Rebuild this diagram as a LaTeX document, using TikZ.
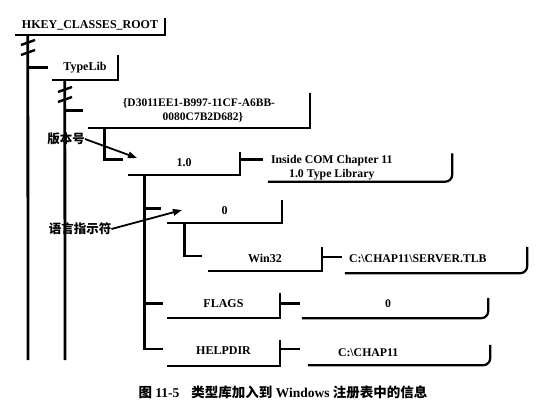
\documentclass[tikz,border=0pt]{standalone}
\usepackage{fontspec}
\setmainfont{Liberation Serif}
\newfontfamily\cjk{Noto Sans CJK SC}
\usetikzlibrary{arrows.meta}
\begin{document}
\begin{tikzpicture}[x=1pt,y=-1pt,
  keybox/.style={inner sep=0pt, anchor=base, font=\fontsize{12}{14}\selectfont\bfseries},
  valbox/.style={inner sep=0pt, anchor=base, font=\fontsize{11.8}{14}\selectfont\bfseries},
  edgeline/.style={line width=2.2pt},
  trunk/.style={line width=2.8pt},
  tick/.style={line width=2.4pt},
  callout/.style={line width=1.8pt, -{Triangle[length=9pt,width=6.5pt]}},
  cjklabel/.style={inner sep=0pt, font={\cjk\fontsize{12.5}{14}\selectfont\bfseries}}
]
\fill[white] (0,0) rectangle (557,415);
\useasboundingbox (0,0) rectangle (557,415);

% keys
\node[keybox, minimum width=150pt, text height=10pt, text depth=7pt] (hkey) at (90,28) {HKEY\_CLASSES\_ROOT};
\node[keybox, minimum width=66pt, text height=15pt, text depth=10pt] (typelib) at (85,70) {TypeLib\hspace{14pt}};
\node[keybox, font=\fontsize{11.5}{14.5}\selectfont\bfseries, minimum width=222pt, minimum height=35pt, anchor=center] (guid) at (199,110.5)
  {\begin{tabular}{@{}c@{}}\{D3011EE1-B997-11CF-A6BB-\\\hspace{8pt}0080C7B2D682\}\end{tabular}};
\node[keybox, minimum width=112pt, text height=14pt, text depth=9pt] (k10) at (184,166) {1.0\hspace{6pt}};
\node[keybox, minimum width=115pt, text height=14pt, text depth=9pt] (k0) at (224.5,214) {0\hspace{8pt}};
\node[keybox, minimum width=114pt, text height=15pt, text depth=9pt] (kwin) at (265,262) {Win32\hspace{6pt}};
\node[keybox, minimum width=113pt, text height=14pt, text depth=11pt] (kflags) at (223.5,307) {FLAGS};
\node[keybox, minimum width=113pt, text height=14pt, text depth=12pt] (khelp) at (223.5,354) {HELPDIR\hspace{6pt}};

% values
\node[valbox, minimum height=25pt, anchor=center] (v10) at (360,167.5)
  {\makebox[184pt][l]{\hspace{3pt}\begin{tabular}{@{}c@{}}Inside COM Chapter 11\\1.0 Type Library\end{tabular}}};
\node[valbox, text height=15pt, text depth=11pt] (vtlb) at (436,262)
  {\makebox[182pt][l]{\hspace{4pt}C:\textbackslash CHAP11\textbackslash SERVER.TLB}};
\node[valbox, text height=9pt, text depth=11pt] (v0) at (395,307) {\makebox[186pt][l]{\hspace{83pt}0}};
\node[valbox, text height=11pt, text depth=9pt] (vhelp) at (399,356)
  {\makebox[182pt][l]{\hspace{30pt}C:\textbackslash CHAP11}};

\foreach \n in {hkey,typelib,guid,k10,k0,kwin,kflags,khelp}
  \draw[edgeline] (\n.north east) -- (\n.south east) -- (\n.south west);
\foreach \n in {v10,vtlb,v0,vhelp}
  \draw[edgeline, rounded corners=7pt] (\n.north east) -- (\n.south east) -- (\n.south west);

% trunks
\coordinate (t1end) at (28,360);
\coordinate (t2end) at (65,360);
\draw[trunk] ([xshift=13pt]hkey.south west) -- (t1end);
\draw[trunk] ([xshift=13pt]typelib.south west) -- (t2end);
% break marks
\draw[tick] (21,45) -- (35,40);
\draw[tick] (21,55) -- (35,50);
\draw[tick] (58,92) -- (72,87);
\draw[tick] (58,102) -- (72,97);

\draw[tick] (typelib.west -| t1end) -- ([xshift=-4pt]typelib.west);
\draw[tick] (guid.west -| t2end) -- ([xshift=-5pt]guid.west);
\draw[trunk] ([xshift=17pt]guid.south west) |- ([xshift=-5pt,yshift=4pt]k10.west);
\coordinate (t4) at ([xshift=17pt]k10.south west);
\draw[trunk] (t4) |- ([xshift=-4pt,yshift=4pt]khelp.west);
\draw[tick] ([yshift=3pt]k0.west -| t4) -- ([xshift=-6pt,yshift=3pt]k0.west);
\draw[tick] ([yshift=2pt]kflags.west -| t4) -- ([xshift=-4pt,yshift=2pt]kflags.west);
\coordinate (t5) at ([xshift=18pt]k0.south west);
\draw[trunk] (t5) |- ([xshift=-6pt,yshift=3pt]kwin.west);

% key -> value ticks
\draw[tick] ([yshift=4pt]k10.east) -- ([xshift=-5pt,yshift=4pt]k10.east -| v10.west);
\draw[tick] ([yshift=2pt]kwin.east) -- ([xshift=-3pt,yshift=2pt]kwin.east -| vtlb.west);
\draw[tick] ([yshift=2pt]kflags.east) -- ([xshift=-2pt,yshift=2pt]kflags.east -| v0.west);
\draw[tick] ([yshift=4pt]khelp.east) -- ([xshift=-8pt,yshift=4pt]khelp.east -| vhelp.west);

% callouts
\node[cjklabel] (lbl1) at (66,139) {版本号};
\coordinate (a1) at (137,158);
\draw[callout] (lbl1.east) -- (a1);
\node[cjklabel] (lbl2) at (80,229) {语言指示符};
\coordinate (a2) at (182,210);
\draw[callout] (lbl2.east) -- (a2);

% caption
\node[inner sep=0pt, font=\fontsize{13.5}{15}\selectfont\bfseries] (cap) at (283,392)
  {{\cjk\bfseries 图} 11-5\hspace{12pt}{\cjk\bfseries 类型库加入到} Windows {\cjk\bfseries 注册表中的信息}};
\end{tikzpicture}
\end{document}
